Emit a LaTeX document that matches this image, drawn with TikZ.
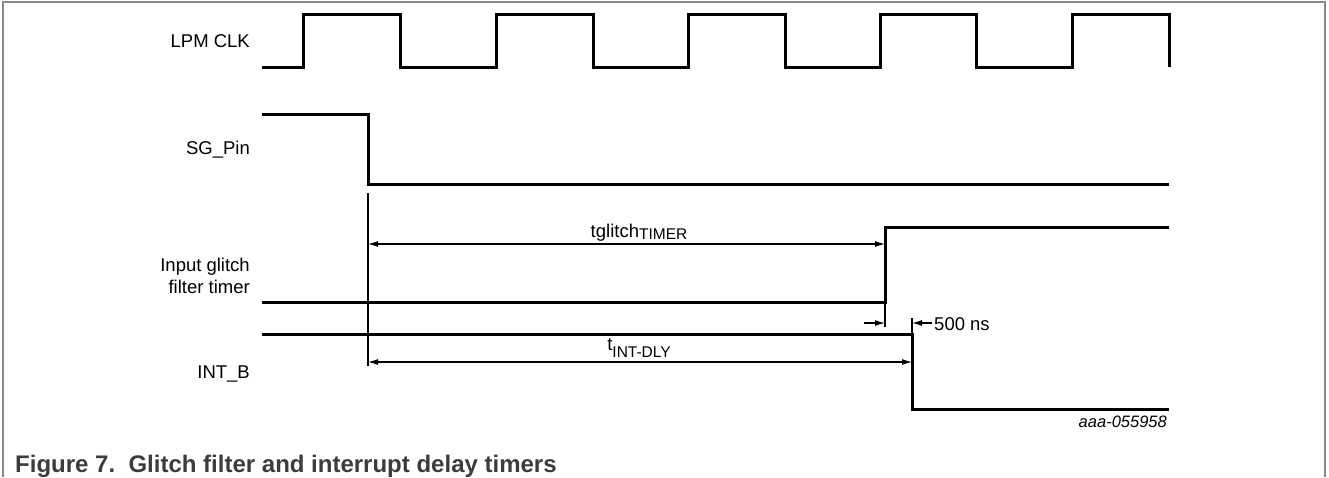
\documentclass[tikz,border=0pt]{standalone}
\usepackage{fontspec}
\setmainfont{Liberation Sans}
\usetikzlibrary{arrows.meta}
\definecolor{framegray}{HTML}{8A8A8A}
\definecolor{captext}{HTML}{3C3C3C}
\begin{document}
\begin{tikzpicture}[x=1pt,y=-1pt,
  sig/.style={line width=3pt, line join=miter, line cap=butt},
  dimline/.style={line width=1.2pt},
  tip/.tip={Latex[length=10pt,width=6pt]},
  dimboth/.style={dimline, tip-tip},
  dimend/.style={dimline, -tip},
  lbl/.style={font=\fontsize{18.5}{21.5}\selectfont, inner sep=0pt, align=right},
  dimlbl/.style={font=\fontsize{18.5}{22}\selectfont, inner sep=0pt},
  framestyle/.style={draw=framegray, line width=1.5pt}]
\useasboundingbox (0,0) rectangle (1329,477);

% frame
\draw[framestyle] (3,477) -- (3,2) -- (1325,2) -- (1325,477);

% signal labels
\node[lbl, anchor=base east] (lpm) at (250,47.5) {LPM CLK};
\node[lbl, anchor=base east] (sg) at (250,154.5) {SG\_Pin};
\node[lbl, anchor=east] (glt) at (250,276) {Input glitch\\filter timer};
\node[lbl, anchor=base east] (intb) at (250,378) {INT\_B};

% waveforms
\draw[sig] (262,67) -| (303,14) -| (400,67) -| (496,14) -| (593,67) -| (688,14)
  -| (785,67) -| (880,14) -| (976,67) -| (1072,14) -| (1169,67);
\draw[sig] (262,114) -| (368,184) -- (1169,184);
\draw[sig] (262,302) -| (885,227) -- (1169,227);
\draw[sig] (262,334) -| (912,409) -- (1169,409);

% reference coordinates
\coordinate (sgTop) at (368,193);
\coordinate (sgBot) at (368,366);
\coordinate (gRise) at (885,302);
\coordinate (gExt) at (885,327);
\coordinate (iExt) at (912,318);
\coordinate (iHigh) at (912,334);
\coordinate (tgA) at (368,244);
\coordinate (tgB) at (885,244);
\coordinate (tdA) at (368,362);
\coordinate (tdB) at (912,362);
\coordinate (sA) at (864,323);
\coordinate (sB) at (885,323);
\coordinate (sC) at (932,323);
\coordinate (sD) at (912,323);

% extension lines
\draw[dimline] (sgTop) -- (sgBot);
\draw[dimline] (gRise) -- (gExt);
\draw[dimline] (iExt) -- (iHigh);

% dimension arrows
\draw[dimboth] (tgA) -- (tgB);
\draw[dimboth] (tdA) -- (tdB);
\draw[dimend] (sA) -- (sB);
\draw[dimend] (sC) -- (sD);

% dimension labels
\node[dimlbl, anchor=base] (tglabel) at (639,237)
  {tglitch\raisebox{-2.7pt}{\fontsize{15.5}{16}\selectfont TIMER}};
\node[dimlbl, anchor=base] (tdlabel) at (639,350)
  {t\raisebox{-7pt}{\fontsize{15.5}{16}\selectfont INT-DLY}};
\node[dimlbl, anchor=base west] (ns) at (934,330) {500 ns};

% figure id
\node[inner sep=0pt, anchor=base east, font=\fontsize{16.5}{18}\selectfont\itshape] (fid) at (1167,427) {aaa-055958};

% caption
\node[inner sep=0pt, anchor=base west, text=captext, font=\fontsize{24}{26}\selectfont\bfseries] (cap) at (15,472)
  {Figure 7.\ \ Glitch filter and interrupt delay timers};
\end{tikzpicture}
\end{document}
